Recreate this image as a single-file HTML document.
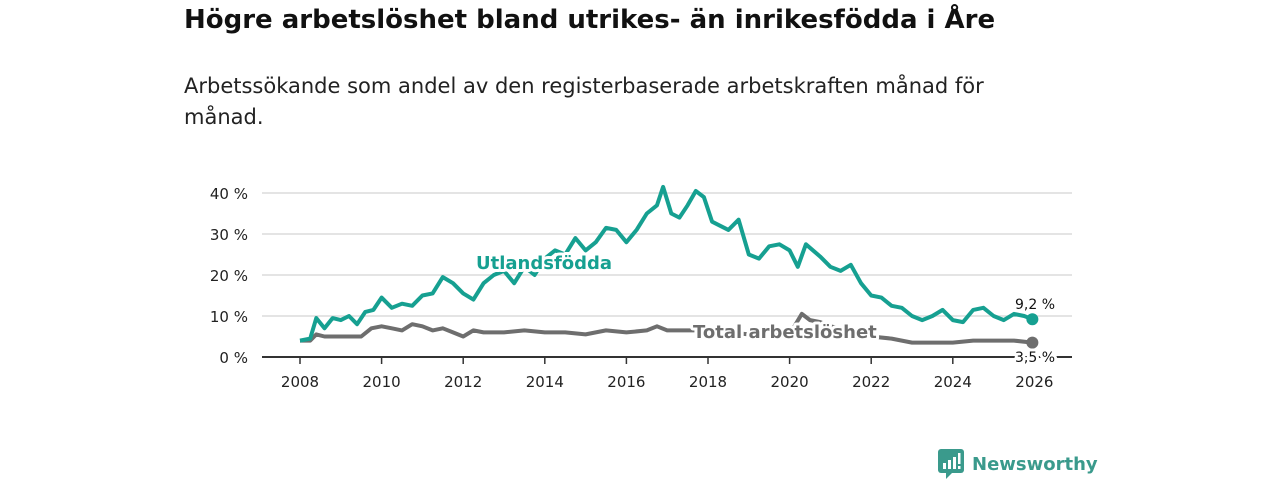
<!DOCTYPE html>
<html><head><meta charset="utf-8">
<style>
body{margin:0;width:1280px;height:480px;background:#fff;font-family:"DejaVu Sans","Liberation Sans",sans-serif;overflow:hidden;position:relative}
#title{position:absolute;left:184px;top:5px;font-size:26px;font-weight:bold;color:#111;margin:0;white-space:nowrap}
#sub{position:absolute;left:184px;top:71px;width:860px;font-size:21px;line-height:31px;color:#222;margin:0}
svg{position:absolute;left:0;top:0}
#logo{position:absolute;left:938px;top:449px;display:flex;align-items:center;color:#3a9a8c;font-size:18px;font-weight:bold}
</style></head><body>
<h1 id="title">Högre arbetslöshet bland utrikes- än inrikesfödda i Åre</h1>
<p id="sub">Arbetssökande som andel av den registerbaserade arbetskraften månad för månad.</p>
<svg id="chart" width="1280" height="480"></svg>
<div id="logo">
<svg width="26" height="30" style="position:static;margin-right:8px"><rect x="0" y="0" width="26" height="24" rx="3" fill="#3a9a8c"/><polygon points="8,24 14,24 8,30" fill="#3a9a8c"/><rect x="5" y="14" width="3" height="6" fill="#fff"/><rect x="10" y="11" width="3" height="9" fill="#fff"/><rect x="15" y="8" width="3" height="12" fill="#fff"/><rect x="20" y="4" width="2.5" height="11" fill="#fff"/><rect x="20" y="17" width="2.5" height="3" fill="#fff"/></svg>
<span>Newsworthy</span></div>
<script>
const uYears=[2008,2008.25,2008.4,2008.6,2008.8,2009,2009.2,2009.4,2009.6,2009.8,2010,2010.25,2010.5,2010.75,2011,2011.25,2011.5,2011.75,2012,2012.25,2012.5,2012.75,2013,2013.25,2013.5,2013.75,2014,2014.25,2014.5,2014.75,2015,2015.25,2015.5,2015.75,2016,2016.25,2016.5,2016.75,2016.9,2017.1,2017.3,2017.5,2017.7,2017.9,2018.1,2018.3,2018.5,2018.75,2019,2019.25,2019.5,2019.75,2020,2020.2,2020.4,2020.75,2021,2021.25,2021.5,2021.75,2022,2022.25,2022.5,2022.75,2023,2023.25,2023.5,2023.75,2024,2024.25,2024.5,2024.75,2025,2025.25,2025.5,2025.75,2025.95];
const uVals=[4,4.5,9.5,7,9.5,9,10,8,11,11.5,14.5,12,13,12.5,15,15.5,19.5,18,15.5,14,18,20,21,18,22,20,24,26,25,29,26,28,31.5,31,28,31,35,37,41.5,35,34,37,40.5,39,33,32,31,33.5,25,24,27,27.5,26,22,27.5,24.5,22,21,22.5,18,15,14.5,12.5,12,10,9,10,11.5,9,8.5,11.5,12,10,9,10.5,10,9.2];
const tYears=[2008,2008.25,2008.4,2008.6,2009,2009.5,2009.75,2010,2010.25,2010.5,2010.75,2011,2011.25,2011.5,2011.75,2012,2012.25,2012.5,2013,2013.5,2014,2014.5,2015,2015.5,2016,2016.5,2016.75,2017,2017.5,2018,2018.5,2019,2019.5,2020,2020.3,2020.5,2020.75,2021,2021.5,2022,2022.5,2023,2023.5,2024,2024.5,2025,2025.5,2025.95];
const tVals=[4,4,5.5,5,5,5,7,7.5,7,6.5,8,7.5,6.5,7,6,5,6.5,6,6,6.5,6,6,5.5,6.5,6,6.5,7.5,6.5,6.5,6.5,6,5.5,5.5,5.5,10.5,9,8.5,7.5,6.5,5,4.5,3.5,3.5,3.5,4,4,4,3.5];
const yTicks=[0,10,20,30,40];
const yTickLabels=["0 %","10 %","20 %","30 %","40 %"];
const xTicks=[2008,2010,2012,2014,2016,2018,2020,2022,2024,2026];
const NS="http://www.w3.org/2000/svg";
const svg=document.getElementById('chart');
const X=y=>300+(y-2008)*40.8;
const Y=v=>357-v*4.1;
function mk(t,a){const e=document.createElementNS(NS,t);for(const k in a)e.setAttribute(k,a[k]);svg.appendChild(e);return e;}
yTicks.forEach((v,i)=>{
  if(v>0){const g=mk('line',{x1:262,x2:1072,y1:Y(v),y2:Y(v),stroke:'#dcdcdc','stroke-width':1.5});
  
  }
  const t=mk('text',{x:248,y:Y(v)+6,'text-anchor':'end','font-size':15,fill:'#222'});
  t.textContent=yTickLabels[i];
  
  
});
const ax=mk('line',{x1:262,x2:1072,y1:357,y2:357,stroke:'#333','stroke-width':2});


xTicks.forEach(y=>{
  const tk=mk('line',{x1:X(y),x2:X(y),y1:357,y2:364,stroke:'#333','stroke-width':1.5});
  
  
  const t=mk('text',{x:X(y),y:387,'text-anchor':'middle','font-size':15,fill:'#222'});
  t.textContent=y;
  
  
});
function line(xs,vs,col,name){
  const p=mk('path',{d:xs.map((x,i)=>(i?'L':'M')+X(x).toFixed(1)+','+Y(vs[i]).toFixed(1)).join(''),fill:'none',stroke:col,'stroke-width':4,'stroke-linejoin':'round'});
  
  
  const c=mk('circle',{cx:X(xs[xs.length-1]),cy:Y(vs[vs.length-1]),r:6,fill:col});
  
  
}
line(tYears,tVals,'#6e6e6e','total-line');
line(uYears,uVals,'#16a091','utlandsfodda-line');
function lab(x,y,txt,col,size,bold,anchor,name){
  const t=mk('text',{x:x,y:y,'font-size':size,'font-weight':bold?'bold':'normal',fill:col,stroke:'#fff','stroke-width':6,'paint-order':'stroke','stroke-linejoin':'round','text-anchor':anchor});
  t.textContent=txt;
  
  
}
lab(476,269,'Utlandsfödda','#16a091',18,true,'start','utlandsfodda-label');
lab(693,338,'Total arbetslöshet','#6e6e6e',18,true,'start','total-label');
lab(1035,309,'9,2 %','#111',14,false,'middle','utlandsfodda-end-value');
lab(1035,362,'3,5 %','#111',14,false,'middle','total-end-value');
</script>
</body></html>
